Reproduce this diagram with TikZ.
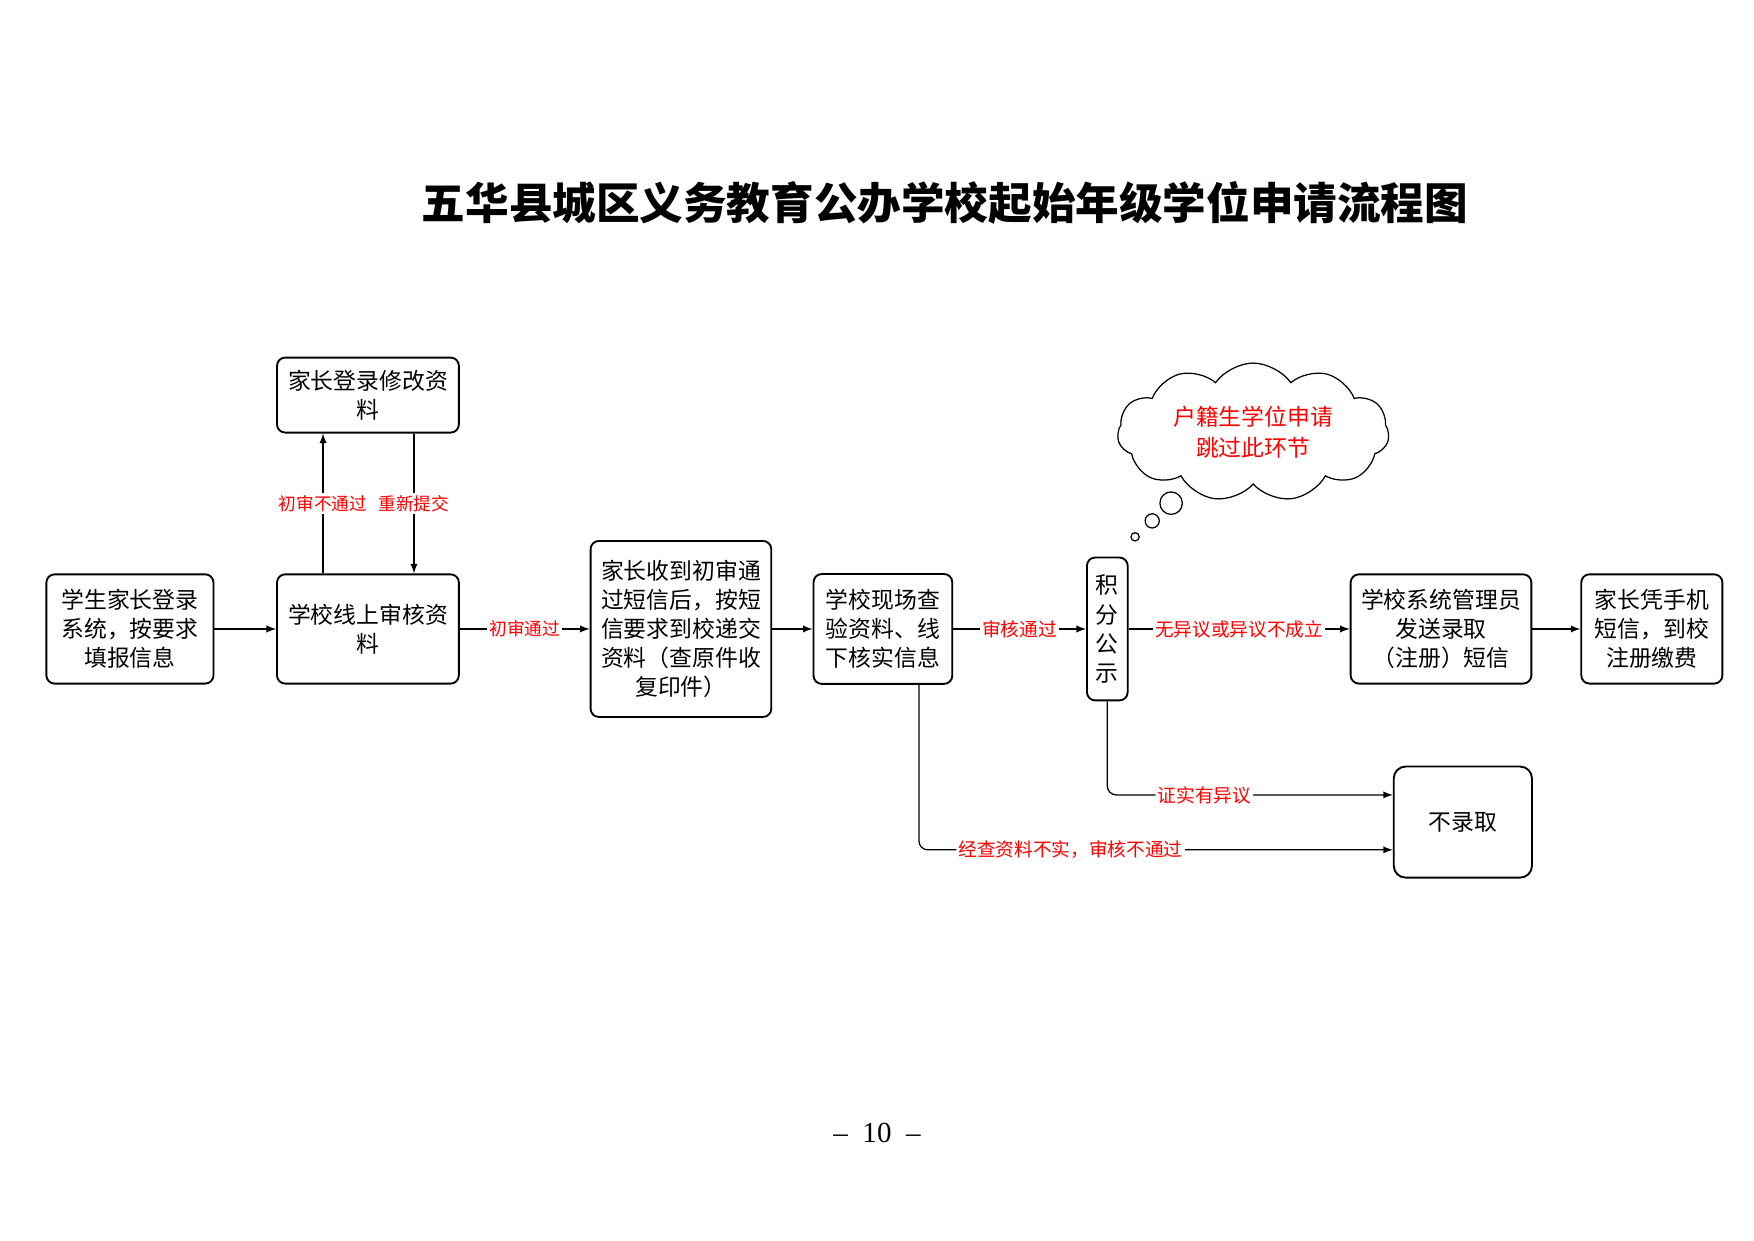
\documentclass[tikz,border=0pt]{standalone}
\usepackage{fontspec}
\setmainfont{Liberation Serif}
\newfontfamily\cjk{Noto Sans CJK SC}
\usetikzlibrary{shapes,arrows}
\usetikzlibrary{shapes.symbols}

\begin{document}
\begin{tikzpicture}[
   box/.style={draw, line width=0.9pt, rounded corners=0.14cm, align=center, inner sep=2pt, font=\cjk\fontsize{11}{14}\selectfont},
   lab/.style={fill=white, text=red, inner sep=1pt, font=\cjk\fontsize{9}{10}\selectfont},
   flow/.style={->, -latex, semithick}
]
   \useasboundingbox (0,0) rectangle (29.7,21);
   \node (title) at (16.00,17.56) {\cjk\bfseries\fontsize{21}{24}\selectfont 五华县城区义务教育公办学校起始年级学位申请流程图};

   % main row
   \node[box, minimum width=2.83cm, minimum height=1.85cm] (login) at (2.20,10.35) {学生家长登录\\系统，按要求\\填报信息};
   \node[box, minimum width=3.08cm, minimum height=1.85cm] (check) at (6.23,10.35) {学校线上审核资\\料};
   \node[box, minimum width=3.08cm, minimum height=1.27cm] (modify) at (6.23,14.31) {家长登录修改资\\料};
   \node[box, minimum width=3.06cm, minimum height=2.98cm] (submit) at (11.53,10.35) {家长收到初审通\\过短信后，按短\\信要求到校递交\\资料（查原件收\\复印件）};
   \node[box, minimum width=2.35cm, minimum height=1.86cm] (verify) at (14.95,10.35) {学校现场查\\验资料、线\\下核实信息};
   \node[box, minimum width=0.69cm, minimum height=2.42cm, inner sep=1pt] (notice) at (18.75,10.35) {积\\分\\公\\示};
   \node[box, minimum width=3.06cm, minimum height=1.85cm] (sms) at (24.40,10.35) {学校系统管理员\\发送录取\\（注册）短信};
   \node[box, minimum width=2.39cm, minimum height=1.85cm] (pay) at (27.97,10.35) {家长凭手机\\短信，到校\\注册缴费};
   \node[box, rounded corners=0.2cm, minimum width=2.34cm, minimum height=1.88cm] (reject) at (24.77,7.08) {不录取};

   % cloud with bubbles
   \node[cloud, draw, semithick, cloud puffs=11, cloud puff arc=110, aspect=2.3, minimum width=4.6cm, minimum height=2.0cm, align=center, text=red, font=\cjk\fontsize{11}{15}\selectfont] (skip) at (21.22,13.68) {户籍生学位申请\\跳过此环节};
   \draw[semithick] (19.83,12.48) circle (0.19);
   \draw[semithick] (19.51,12.18) circle (0.12);
   \draw[semithick] (19.22,11.91) circle (0.07);

   \draw[flow] (login) -- (check);
   \draw[flow] (check) -- node[lab, font=\cjk\fontsize{8.5}{10}\selectfont] {初审通过} (submit);
   \draw[flow] (submit) -- (verify);
   \draw[flow] (verify) -- node[lab] {审核通过} (notice);
   \draw[flow] (notice) -- node[lab] {无异议或异议不成立} (sms);
   \draw[flow] (sms) -- (pay);

   \draw[flow] ([xshift=-0.76cm]check.north) -- node[lab, font=\cjk\fontsize{8.5}{10}\selectfont] {初审不通过} ([xshift=-0.76cm]modify.south);
   \draw[flow] ([xshift=0.78cm]modify.south) -- node[lab, font=\cjk\fontsize{8.5}{10}\selectfont] {重新提交} ([xshift=0.78cm]check.north);

   \draw[flow, rounded corners=0.15cm] (notice.south) |- node[lab, pos=0.67] {证实有异议} ([yshift=0.46cm]reject.west);
   \draw[flow, rounded corners=0.15cm] ([xshift=0.61cm]verify.south) |- node[lab, pos=0.66] {经查资料不实，审核不通过} ([yshift=-0.47cm]reject.west);

   \node (page) at (14.85,1.81) {\fontsize{14}{16}\selectfont \textendash\ \ 10\ \ \textendash};
\end{tikzpicture}
\end{document}
